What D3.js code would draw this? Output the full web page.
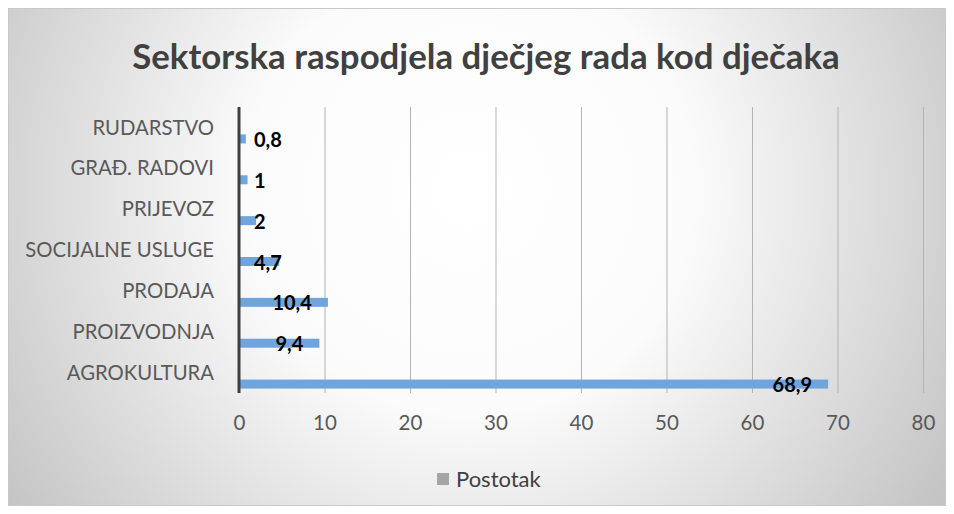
<!DOCTYPE html>
<html>
<head>
<meta charset="utf-8">
<script src="https://cdn.jsdelivr.net/npm/d3@7"></script>
<style>
  body { margin: 0; background: #fff; }
  text { font-family: Lato, "Open Sans", sans-serif; }
</style>
</head>
<body>
<div id="chart"></div>
<script>
var categories = ["RUDARSTVO", "GRAĐ. RADOVI", "PRIJEVOZ", "SOCIJALNE USLUGE", "PRODAJA", "PROIZVODNJA", "AGROKULTURA"];
var values = [0.8, 1, 2, 4.7, 10.4, 9.4, 68.9];
var valueLabels = ["0,8", "1", "2", "4,7", "10,4", "9,4", "68,9"];
var xTicks = [0, 10, 20, 30, 40, 50, 60, 70, 80];
var seriesName = "Postotak";

var W = 954, H = 514;
var margin = {top: 107, right: 31, bottom: 121, left: 239},
    width = W - margin.left - margin.right,
    height = H - margin.top - margin.bottom;

var root = d3.select("#chart").append("svg")
    .attr("width", W)
    .attr("height", H);

var defs = root.append("defs");
var grad = defs.append("radialGradient")
    .attr("id", "bg")
    .attr("gradientUnits", "userSpaceOnUse")
    .attr("cx", 470).attr("cy", 190).attr("r", 560);
grad.append("stop").attr("offset", "0%").attr("stop-color", "#ffffff");
grad.append("stop").attr("offset", "40%").attr("stop-color", "#fbfbfb");
grad.append("stop").attr("offset", "100%").attr("stop-color", "#c4c4c4");

root.append("rect")
    .attr("x", 8.5).attr("y", 8.5)
    .attr("width", 937).attr("height", 497)
    .attr("fill", "url(#bg)")
    .attr("stroke", "#c8c8c8");

root.append("text")
    .attr("x", 486).attr("y", 69)
    .attr("text-anchor", "middle")
    .attr("font-size", 34.8)
    .attr("font-weight", "bold")
    .attr("fill", "#404040")
    .text("Sektorska raspodjela dječjeg rada kod dječaka");

var svg = root.append("g")
    .attr("transform", "translate(" + margin.left + "," + margin.top + ")");

var x = d3.scaleLinear()
    .domain([0, 80])
    .range([0, width]);

var y = d3.scaleBand()
    .domain(categories)
    .range([0, height]);

// gridlines
svg.append("g")
    .attr("class", "grid")
    .selectAll("line")
    .data(xTicks.slice(1))
  .enter().append("line")
    .attr("x1", function(d) { return x(d) + 0.5; })
    .attr("x2", function(d) { return x(d) + 0.5; })
    .attr("y1", 0)
    .attr("y2", height)
    .attr("stroke", "#b3b3b3")
    .attr("stroke-width", 1);

// x axis labels
var xAxis = svg.append("g")
    .attr("transform", "translate(0," + height + ")")
    .call(d3.axisBottom(x).tickValues(xTicks).tickSize(0).tickPadding(22));
xAxis.select(".domain").remove();
xAxis.selectAll("text")
    .attr("font-size", 20.5)
    .attr("fill", "#595959")
    .style("font-family", "Lato, 'Open Sans', sans-serif");

// category labels
var yAxis = svg.append("g")
    .call(d3.axisLeft(y).tickSize(0).tickPadding(25));
yAxis.select(".domain").remove();
yAxis.selectAll("text")
    .attr("font-size", 20.3)
    .attr("fill", "#595959")
    .attr("dy", "0.35em")
    .style("font-family", "Lato, 'Open Sans', sans-serif");

var barH = 9, barOff = y.bandwidth() / 2 + 7;

svg.selectAll(".bar")
    .data(values)
  .enter().append("rect")
    .attr("class", "bar")
    .attr("x", x(0))
    .attr("y", function(d, i) { return y(categories[i]) + barOff; })
    .attr("width", function(d) { return x(d) - x(0); })
    .attr("height", barH)
    .attr("fill", "#6fa5dc");

// y axis line
svg.append("line")
    .attr("x1", x(0)).attr("x2", x(0))
    .attr("y1", 0).attr("y2", height)
    .attr("stroke", "#404040")
    .attr("stroke-width", 3);

// value labels
svg.selectAll(".val")
    .data(values)
  .enter().append("text")
    .attr("class", "val")
    .attr("text-anchor", "end")
    .attr("font-size", 20)
    .attr("font-weight", "bold")
    .attr("fill", "#000")
    .attr("y", function(d, i) { return y(categories[i]) + barOff + barH / 2; })
    .attr("dy", "0.4em")
    .text(function(d, i) { return valueLabels[i]; })
    .attr("x", function(d) {
        var w = this.getComputedTextLength();
        return Math.max(x(d) - 16, x(0) + 15 + w);
    });

// legend
var lg = root.append("g").attr("transform", "translate(437,473)");
lg.append("rect").attr("width", 12).attr("height", 12).attr("fill", "#a5a5a5");
lg.append("text")
    .attr("x", 19).attr("y", 6).attr("dy", "0.36em")
    .attr("font-size", 22)
    .attr("fill", "#404040")
    .text(seriesName);
</script>
</body>
</html>
